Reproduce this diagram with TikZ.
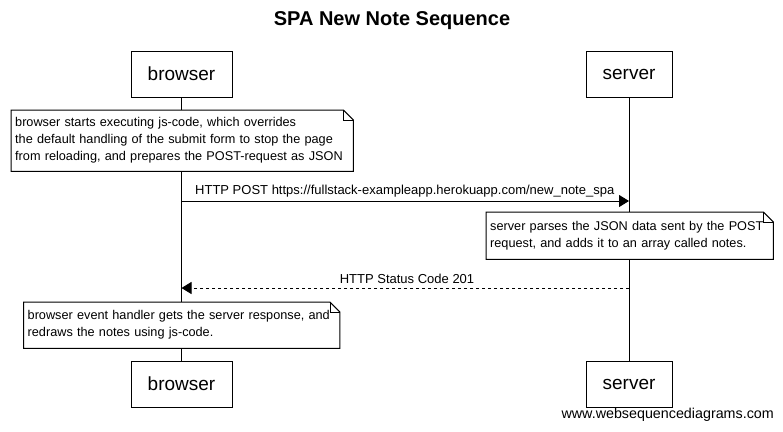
\documentclass[tikz,border=0pt]{standalone}
\usepackage{fontspec}
\setmainfont{Liberation Sans}
\usetikzlibrary{arrows.meta}

\tikzset{
  actor/.style={draw, line width=1pt, minimum height=46, inner sep=0pt, font=\fontsize{19}{23}\selectfont},
  note/.style={anchor=north west, fill=white, inner xsep=4pt, inner ysep=6pt, align=left, font=\fontsize{12.7}{17}\selectfont},
  msg/.style={-{Triangle[length=10pt,width=12pt]}, line width=1pt},
  lbl/.style={font=\fontsize{13}{15}\selectfont, inner sep=1pt}
}
% outline of a note with a folded corner
\newcommand\notefold[1]{%
  \draw[line width=1pt] (#1.south west) -- (#1.north west) -- ([xshift=-10pt]#1.north east)
    -- ([yshift=-10pt]#1.north east) -- (#1.south east) -- cycle;
  \draw[line width=0.8pt] ([xshift=-10pt]#1.north east) -- ([xshift=-10pt,yshift=-10pt]#1.north east)
    -- ([yshift=-10pt]#1.north east);
}

\begin{document}
\begin{tikzpicture}[x=1pt, y=-1pt]
    \useasboundingbox[fill=white] (0,0) rectangle (783,431);

    % Title
    \node[font=\fontsize{20}{24}\selectfont\bfseries] (title) at (392,21) {SPA New Note Sequence};

    % Actors
    \node[actor, minimum width=101] (btop) at (181.5,74) {browser};
    \node[actor, minimum width=86] (stop) at (629,74) {server};
    \node[actor, minimum width=101] (bbot) at (181.5,384) {browser};
    \node[actor, minimum width=86] (sbot) at (629,384) {server};

    % Lifelines
    \draw[line width=1pt] (btop) -- (bbot);
    \draw[line width=1pt] (stop) -- (sbot);

    % Note 1
    \node[note, text width=334, minimum height=61] (n1) at (11,110)
      {browser starts executing js-code, which overrides\\the default handling of the submit form to stop the page\\from reloading, and prepares the POST-request as JSON};
    \notefold{n1}

    % POST request
    \coordinate (b1) at (181.5,201);
    \coordinate (s1) at (629,201);
    \draw[msg] (b1) -- (s1);
    \node[lbl, anchor=south west] (m1) at (194,198) {HTTP POST https://fullstack-exampleapp.herokuapp.com/new\_note\_spa};

    % Note 2
    \node[note, text width=279, minimum height=47] (n2) at (486,212)
      {server parses the JSON data sent by the POST\\request, and adds it to an array called notes.};
    \notefold{n2}

    % Status response
    \coordinate (s2) at (629,288);
    \coordinate (b2) at (181.5,288);
    \draw[msg, dashed] (s2) -- (b2);
    \node[lbl, anchor=south] (m2) at (407,285) {HTTP Status Code 201};

    % Note 3
    \node[note, text width=308, minimum height=46] (n3) at (23.5,302)
      {browser event handler gets the server response, and\\redraws the notes using js-code.};
    \notefold{n3}

    % Watermark
    \node[lbl, font=\fontsize{14.3}{16}\selectfont, anchor=east] (wm) at (775,415) {www.websequencediagrams.com};
\end{tikzpicture}
\end{document}
